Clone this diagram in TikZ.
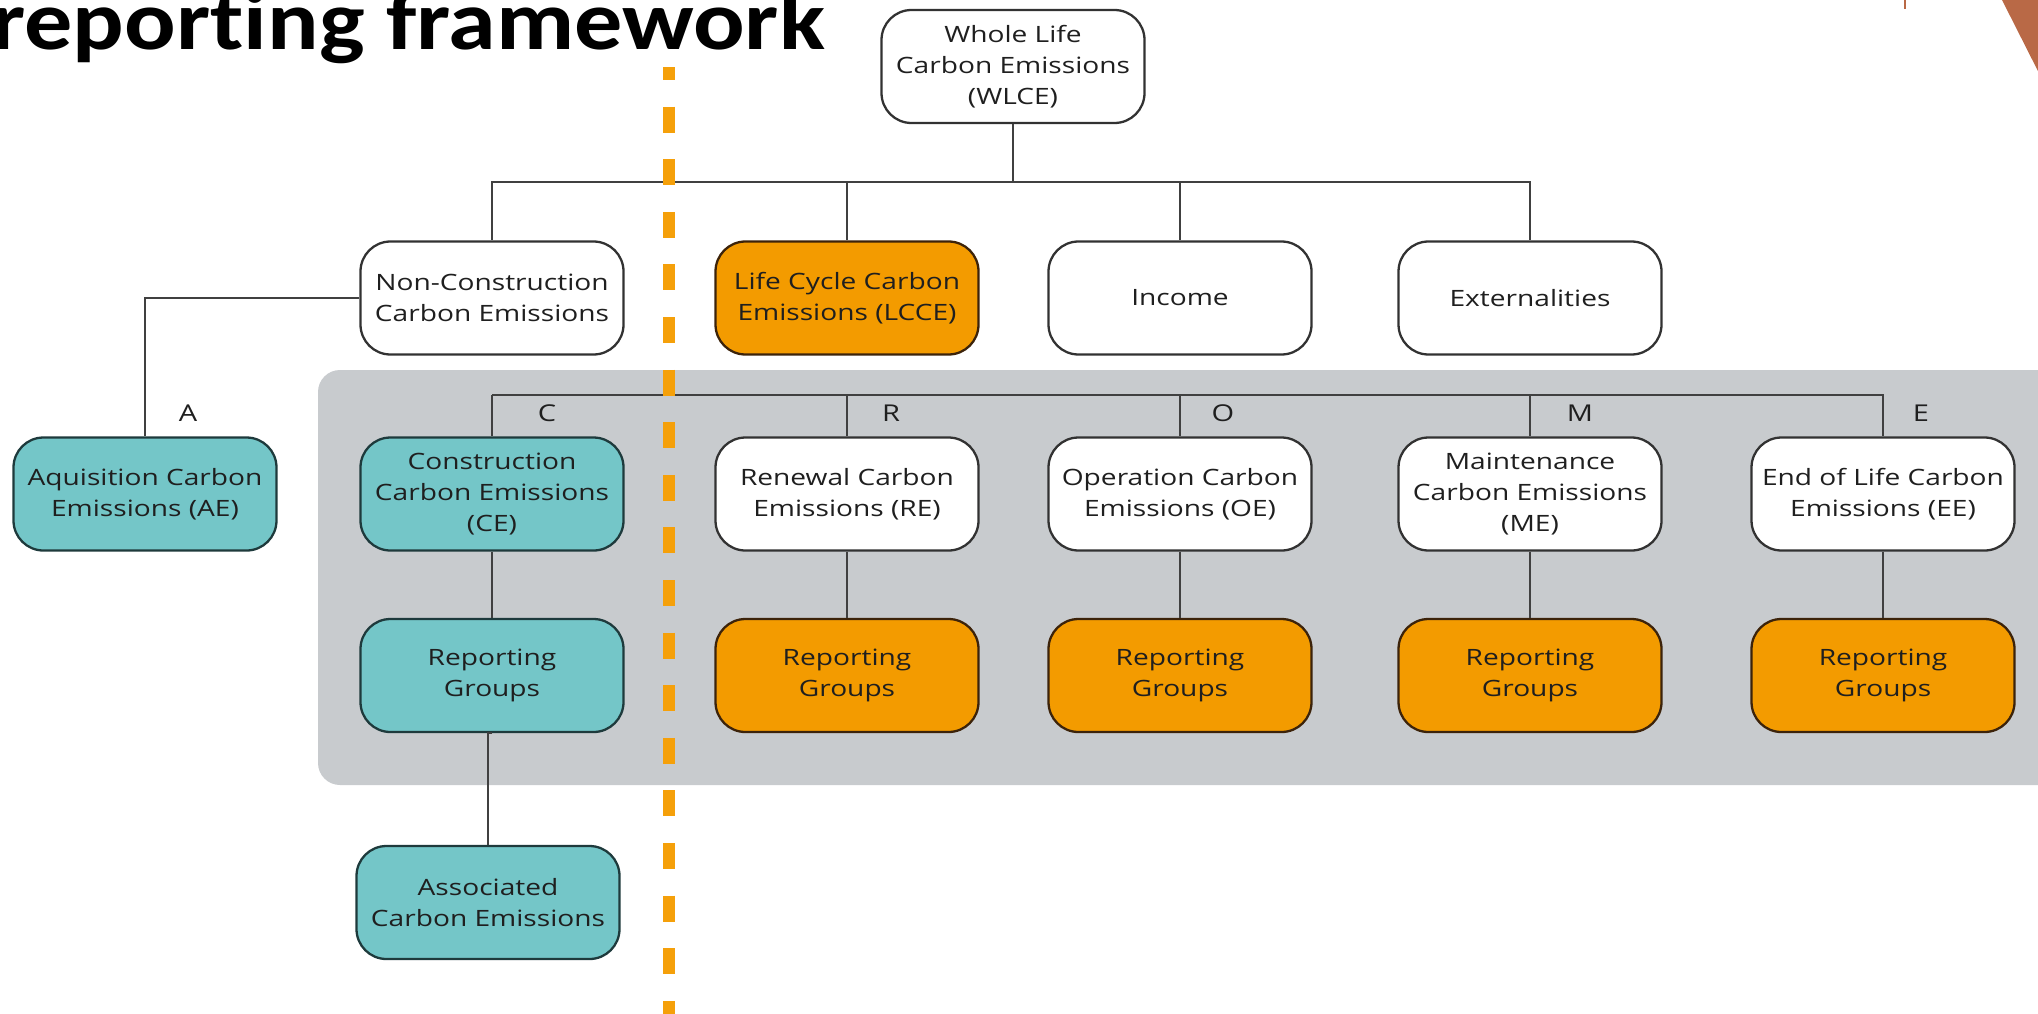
\documentclass[tikz,border=0pt]{standalone}
\usepackage{fontspec}
\setmainfont{Open Sans}[FakeStretch=1.25]
\newfontfamily\titlefont{Carlito}[FakeStretch=1.14, Ligatures=NoCommon]
\usetikzlibrary{positioning}

\definecolor{tealfill}{RGB}{116,198,200}
\definecolor{tealline}{RGB}{30,58,60}
\definecolor{orangefill}{RGB}{243,155,0}
\definecolor{orangeline}{RGB}{60,35,10}
\definecolor{boxline}{RGB}{50,50,50}
\definecolor{panelgray}{RGB}{200,203,206}
\definecolor{dividerorange}{RGB}{245,160,10}
\definecolor{cornerbrown}{RGB}{185,105,70}

\tikzset{
  box/.style={draw=boxline, fill=white, rounded corners=0.3cm, line width=0.65pt,
    minimum width=2.63cm, minimum height=1.13cm, align=center, inner sep=1pt,
    font=\fontsize{6.4}{8.8}\selectfont, text=black!88},
  tealbox/.style={box, fill=tealfill, draw=tealline},
  orangebox/.style={box, fill=orangefill, draw=orangeline},
  link/.style={draw=black!75, line width=0.45pt},
  lbl/.style={font=\fontsize{6.6}{8.8}\selectfont, text=black!88, inner sep=0pt},
  divider/.style={draw=dividerorange, line width=3.4pt, dash pattern=on 0.26cm off 0.266cm, dash phase=0.13cm}
}

\begin{document}
\begin{tikzpicture}
    \useasboundingbox (0,0) rectangle (20.38,-10.13);
    \clip (0,0) rectangle (20.38,-10.13);
    % grey band behind the life cycle stages
    \fill[panelgray, rounded corners=0.22cm] (3.18,-3.70) rectangle (20.8,-7.85);
    \node[font=\titlefont\bfseries\fontsize{24}{28}\selectfont, anchor=base east, inner sep=0pt] (title) at (8.26,-0.50) {reporting framework};
    \fill[cornerbrown] (20.02,0) -- (20.45,0) -- (20.45,-0.85) -- cycle;
    \draw[cornerbrown, line width=0.3pt] (19.05,0) -- (19.05,-0.09);

    \node[box] (wlce) at (10.13,-0.665) {Whole Life\\Carbon Emissions\\(WLCE)};

    \node[box] (nc) at (4.92,-2.98) {Non-Construction\\Carbon Emissions};
    \node[orangebox] (lcce) at (8.47,-2.98) {Life Cycle Carbon\\Emissions (LCCE)};
    \node[box] (income) at (11.80,-2.98) {Income};
    \node[box] (ext) at (15.30,-2.98) {Externalities};

    \node[tealbox] (ae) at (1.45,-4.94) {Aquisition Carbon\\Emissions (AE)};
    \node[tealbox] (ce) at (4.92,-4.94) {Construction\\Carbon Emissions\\(CE)};
    \node[box] (re) at (8.47,-4.94) {Renewal Carbon\\Emissions (RE)};
    \node[box] (oe) at (11.80,-4.94) {Operation Carbon\\Emissions (OE)};
    \node[box] (me) at (15.30,-4.94) {Maintenance\\Carbon Emissions\\(ME)};
    \node[box] (ee) at (18.83,-4.94) {End of Life Carbon\\Emissions (EE)};

    \node[tealbox] (cerg) at (4.92,-6.755) {Reporting\\Groups};
    \node[orangebox] (rerg) at (8.47,-6.755) {Reporting\\Groups};
    \node[orangebox] (oerg) at (11.80,-6.755) {Reporting\\Groups};
    \node[orangebox] (merg) at (15.30,-6.755) {Reporting\\Groups};
    \node[orangebox] (eerg) at (18.83,-6.755) {Reporting\\Groups};

    \node[tealbox] (assoc) at (4.88,-9.025) {Associated\\Carbon Emissions};

    % tree lines
    \coordinate (bus1) at (0,-1.82);
    \coordinate (bus2) at (0,-3.95);
    \foreach \n in {nc,lcce,income,ext}
        \draw[link] (wlce.south) -- (wlce.south |- bus1) -| (\n.north);
    \draw[link] (nc.west) -| (ae.north);
    \foreach \n in {ce,re,oe,me,ee}
        \draw[link] (ce.north |- bus2) -| (\n.north);
    \draw[link] (ce) -- (cerg);
    \draw[link] (re) -- (rerg);
    \draw[link] (oe) -- (oerg);
    \draw[link] (me) -- (merg);
    \draw[link] (ee) -- (eerg);
    \draw[link] (cerg.south) -- (cerg.south -| assoc.north) -- (assoc.north);

    \draw[divider] (6.69,-0.67) -- (6.69,-10.3);

    \node[lbl] (la) at (1.88,-4.13) {A};
    \node[lbl] (lc) at (5.47,-4.13) {C};
    \node[lbl] (lr) at (8.91,-4.13) {R};
    \node[lbl] (lo) at (12.23,-4.13) {O};
    \node[lbl] (lm) at (15.80,-4.13) {M};
    \node[lbl] (le) at (19.21,-4.13) {E};
\end{tikzpicture}
\end{document}
